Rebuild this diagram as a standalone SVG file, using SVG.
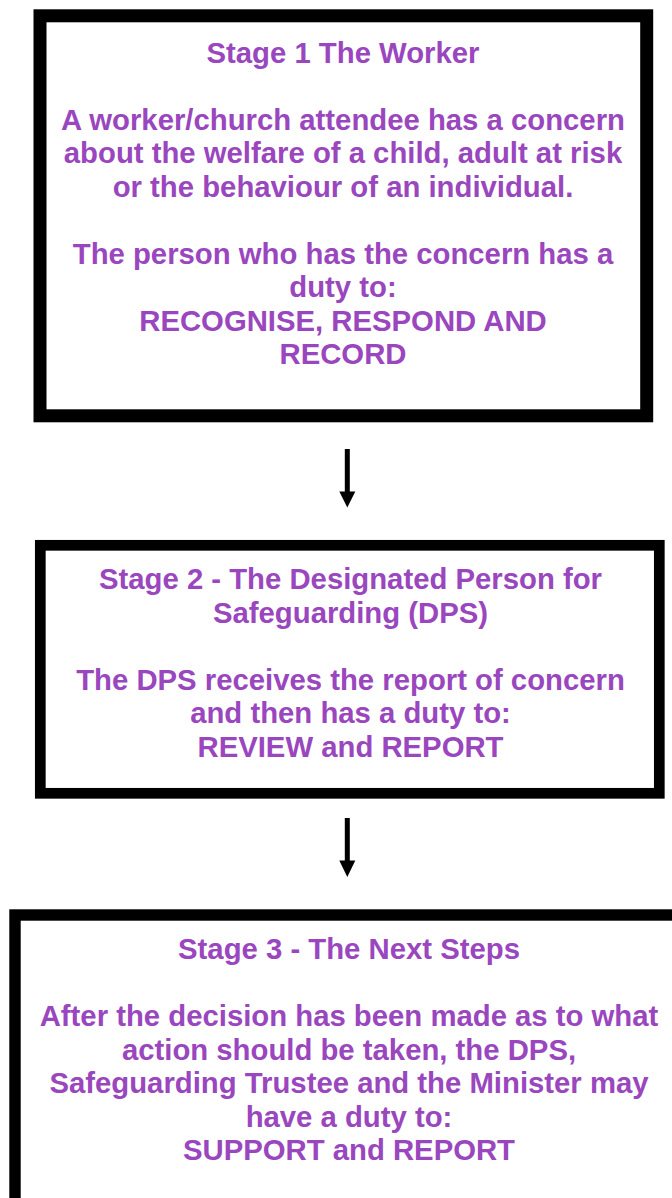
<svg xmlns="http://www.w3.org/2000/svg" width="672" height="1198" viewBox="0 0 672 1198">
<defs>
<style>
.box{fill:#ffffff;stroke:#000000;}
.t{font-family:"Liberation Sans",Arial,sans-serif;font-weight:bold;font-size:29.3px;fill:#9a46be;text-anchor:middle;}
.conn{stroke:#000000;stroke-width:5;fill:none;}
.head{fill:#000000;}
</style>
</defs>
<rect width="672" height="1198" fill="#ffffff"/>
<g id="node-stage1">
<rect class="box" x="40" y="15.8" width="606.7" height="400" stroke-width="13"/>
<text class="t" x="343" y="62.5">Stage 1 The Worker</text>
<text class="t" x="343" y="129.5">A worker/church attendee has a concern</text>
<text class="t" x="343" y="163">about the welfare of a child, adult at risk</text>
<text class="t" x="343" y="196.5">or the behaviour of an individual.</text>
<text class="t" x="343" y="263.5">The person who has the concern has a</text>
<text class="t" x="343" y="297">duty to:</text>
<text class="t" x="343" y="330.5">RECOGNISE, RESPOND AND</text>
<text class="t" x="343" y="364">RECORD</text>
</g>
<g id="node-stage2">
<rect class="box" x="40.3" y="545.3" width="619" height="248" stroke-width="10.7"/>
<text class="t" x="350.5" y="589">Stage 2 - The Designated Person for</text>
<text class="t" x="350.5" y="622.5">Safeguarding (DPS)</text>
<text class="t" x="350.5" y="689.5">The DPS receives the report of concern</text>
<text class="t" x="350.5" y="723">and then has a duty to:</text>
<text class="t" x="350.5" y="756.5">REVIEW and REPORT</text>
</g>
<g id="node-stage3">
<rect class="box" x="15" y="915" width="700" height="400" stroke-width="11.4"/>
<text class="t" x="349" y="959">Stage 3 - The Next Steps</text>
<text class="t" x="349" y="1026">After the decision has been made as to what</text>
<text class="t" x="349" y="1059.5">action should be taken, the DPS,</text>
<text class="t" x="349" y="1093">Safeguarding Trustee and the Minister may</text>
<text class="t" x="349" y="1126.5">have a duty to:</text>
<text class="t" x="349" y="1160">SUPPORT and REPORT</text>
</g>
<g id="connectors">
<line class="conn" x1="347.3" y1="449" x2="347.3" y2="493"/>
<polygon class="head" points="339.3,491.5 355.3,491.5 347.3,507.5"/>
<line class="conn" x1="347.3" y1="818" x2="347.3" y2="862"/>
<polygon class="head" points="339.3,860.5 355.3,860.5 347.3,877"/>
</g>
</svg>
